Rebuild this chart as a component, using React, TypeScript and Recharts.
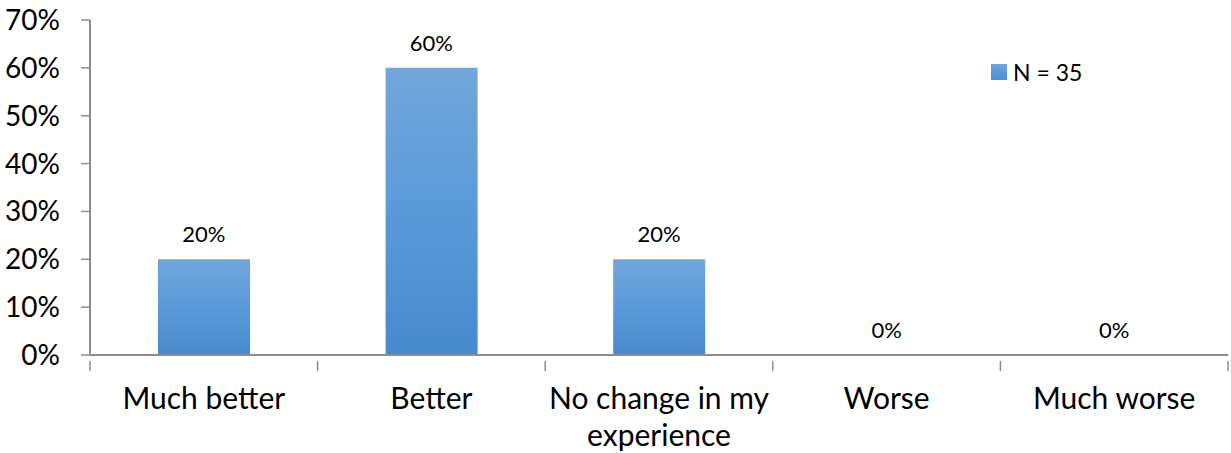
import React from "react";
import {
  ComposedChart,
  Bar,
  Line,
  XAxis,
  YAxis,
  Legend,
  LabelList,
} from "recharts";

const categories = [
  "Much better",
  "Better",
  "No change in my experience",
  "Worse",
  "Much worse",
];
const shares = [0.2, 0.6, 0.2, 0, 0];
const yTicks = [0, 0.1, 0.2, 0.3, 0.4, 0.5, 0.6, 0.7];
const seriesName = "N = 35";

const FONT = "Lato, 'Open Sans', sans-serif";
const AXIS_GREY = "#8c8c8c";

// break long category names the way the original wraps them
const labelLines: Record<string, string[]> = {
  "No change in my experience": ["No change in my", "experience"],
};

const pct = (v: number) => `${Math.round(v * 100)}%`;

function CategoryTick(props: any) {
  const { x, y, payload, index, visibleTicksCount } = props;
  const band = 227.6;
  const lines = labelLines[payload.value] || [payload.value];
  const axisY = y - 2;
  return (
    <g>
      <line
        x1={x - band / 2}
        x2={x - band / 2}
        y1={axisY}
        y2={axisY + 10}
        stroke={AXIS_GREY}
        strokeWidth={1.5}
      />
      {index === visibleTicksCount - 1 && (
        <line
          x1={x + band / 2}
          x2={x + band / 2}
          y1={axisY}
          y2={axisY + 10}
          stroke={AXIS_GREY}
          strokeWidth={1.5}
        />
      )}
      <text
        x={x}
        y={axisY + 48}
        textAnchor="middle"
        fontFamily={FONT}
        fontSize={30}
        fill="#000"
      >
        {lines.map((line, i) => (
          <tspan key={i} x={x} dy={i === 0 ? 0 : 37}>
            {line}
          </tspan>
        ))}
      </text>
    </g>
  );
}

function LegendBox() {
  return (
    <div
      style={{
        display: "flex",
        alignItems: "center",
        fontFamily: FONT,
        fontSize: 23,
        color: "#000",
      }}
    >
      <span
        style={{
          display: "inline-block",
          width: 16,
          height: 16,
          marginRight: 6,
          background: "linear-gradient(#6fa6dc, #4a8ed2)",
        }}
      />
      {seriesName}
    </div>
  );
}

export default function App() {
  const data = categories.map((name, i) => ({ name, value: shares[i] }));

  return (
    <div style={{ position: "absolute", left: 0, top: 0, background: "#fff" }}>
      <ComposedChart
        width={1231}
        height={453}
        data={data}
        margin={{ top: 20, right: 3, bottom: 0, left: 0 }}
        barCategoryGap={0}
      >
        <defs>
          <linearGradient id="barFill" x1="0" y1="0" x2="0" y2="1">
            <stop offset="0%" stopColor="#72a7dc" />
            <stop offset="50%" stopColor="#5a9ad9" />
            <stop offset="100%" stopColor="#478acc" />
          </linearGradient>
        </defs>
        <XAxis
          dataKey="name"
          height={98}
          interval={0}
          tickLine={false}
          axisLine={{ stroke: AXIS_GREY, strokeWidth: 2 }}
          tick={<CategoryTick />}
        />
        <YAxis
          width={90}
          domain={[0, 0.7]}
          ticks={yTicks}
          tickFormatter={pct}
          tickSize={9}
          tickMargin={21}
          axisLine={{ stroke: AXIS_GREY, strokeWidth: 2 }}
          tickLine={{ stroke: AXIS_GREY, strokeWidth: 1.5 }}
          tick={{ fontFamily: FONT, fontSize: 28, fill: "#000" }}
        />
        <Legend
          content={<LegendBox />}
          layout="vertical"
          verticalAlign="middle"
          align="center"
          wrapperStyle={{ left: 991, top: 58, width: 120 }}
        />
        <Bar
          dataKey="value"
          name={seriesName}
          fill="url(#barFill)"
          barSize={92}
          isAnimationActive={false}
        />
        {/* invisible carrier for the value labels so 0% ones show too */}
        <Line
          dataKey="value"
          stroke="none"
          dot={false}
          activeDot={false}
          legendType="none"
          isAnimationActive={false}
        >
          <LabelList
            dataKey="value"
            position="top"
            offset={17}
            formatter={pct}
            style={{ fontFamily: FONT, fontSize: 22, fill: "#000" }}
          />
        </Line>
      </ComposedChart>
    </div>
  );
}
